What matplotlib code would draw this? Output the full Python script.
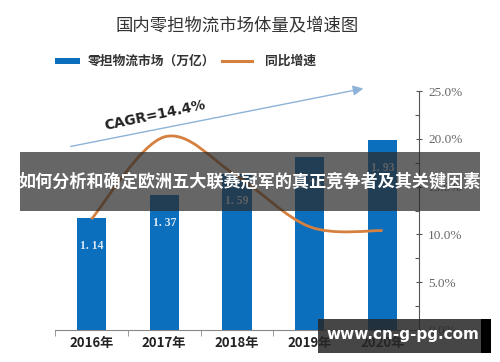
import matplotlib
matplotlib.use("Agg")
import matplotlib.pyplot as plt
from matplotlib.path import Path
from matplotlib.patches import PathPatch, Rectangle, FancyArrowPatch
from matplotlib.ticker import MultipleLocator, FuncFormatter
import numpy as np

plt.rcParams['font.family'] = ['Noto Sans CJK SC', 'DejaVu Sans']

years = ["2016年", "2017年", "2018年", "2019年", "2020年"]
market = [1.14, 1.37, 1.59, 1.76, 1.93]
growth = [11.6, 20.2, 16.1, 10.8, 10.4]

title = "国内零担物流市场体量及增速图"
legend_bar = "零担物流市场（万亿）"
legend_line = "同比增速"
cagr_text = "CAGR=14.4%"
banner_text = "如何分析和确定欧洲五大联赛冠军的真正竞争者及其关键因素"
watermark = "www.cn-g-pg.com"

BAR_C = "#0b6fbe"
LINE_C = "#d5803f"

fig = plt.figure(figsize=(5.0, 3.62), dpi=100)
fig.patch.set_facecolor("white")
ax = fig.add_axes([0.11, 0.0884, 0.728, 0.660])
ax2 = ax.twinx()

x = np.arange(len(years))
bars = ax.bar(x, market, width=0.4, color=BAR_C, zorder=2)
ax.set_xlim(-0.5, len(years) - 0.5)
ax.set_ylim(0, 2.43)
for xi, v in zip(x, market):
    ax.annotate(f"{v:.2f}".replace(".", ". "), (xi, v), xytext=(0, -20),
                textcoords="offset points", ha="center", va="center",
                fontsize=8.5, color="#dbe9f6", family="Liberation Serif",
                fontweight="bold", zorder=3)

# smooth line (Catmull-Rom -> cubic Bezier) through growth points
pts = np.column_stack([x, growth]).astype(float)
verts = [tuple(pts[0])]
codes = [Path.MOVETO]
n = len(pts)
for i in range(n - 1):
    p0 = pts[max(i - 1, 0)]
    p1 = pts[i]
    p2 = pts[i + 1]
    p3 = pts[min(i + 2, n - 1)]
    c1 = p1 + (p2 - p0) / 6.0
    c2 = p2 - (p3 - p1) / 6.0
    verts += [tuple(c1), tuple(c2), tuple(p2)]
    codes += [Path.CURVE4] * 3
ax2.add_patch(PathPatch(Path(verts, codes), facecolor="none", edgecolor=LINE_C,
                        lw=2.0, zorder=4))
ax2.set_ylim(0, 25)
ax2.yaxis.set_major_locator(MultipleLocator(5))
ax2.yaxis.set_minor_locator(MultipleLocator(2.5))
ax2.yaxis.set_major_formatter(FuncFormatter(lambda v, p: f"{v:.1f}%"))
ax2.tick_params(axis="y", which="major", direction="inout", length=5, width=0.8,
                colors="#555555", labelsize=9.5, pad=4)
ax2.tick_params(axis="y", which="minor", direction="in", length=3, width=0.8,
                color="#555555")
for lab in ax2.get_yticklabels():
    lab.set_family("Liberation Serif")
    lab.set_color("#666666")

for a in (ax, ax2):
    a.spines["top"].set_visible(False)
    a.spines["left"].set_visible(False)
    a.set_facecolor("none")
ax.spines["right"].set_visible(False)
ax2.spines["right"].set_color("#555555")
ax2.spines["bottom"].set_visible(False)
ax.spines["bottom"].set_color("#888888")
ax.yaxis.set_visible(False)
ax.set_xticks(x)
ax.set_xticklabels(years, fontsize=9.5, fontweight="bold", color="#222222")
ax.set_xticks(np.arange(-0.5, len(years), 1.0), minor=True)
ax.tick_params(axis="x", which="major", length=0, pad=4)
ax.tick_params(axis="x", which="minor", length=4, color="#888888")
ax.set_zorder(1)
ax2.set_zorder(2)

# title
fig.text(0.474, 0.930, title, ha="center", va="center", fontsize=12.5,
         color="#333333")

# legend
fig.patches.append(Rectangle((0.110, 0.823), 0.050, 0.016, transform=fig.transFigure,
                             facecolor=BAR_C, edgecolor="none"))
fig.text(0.176, 0.831, legend_bar, ha="left", va="center", fontsize=9.2,
         fontweight="bold", color="#333333")
fig.add_artist(plt.Line2D([0.444, 0.504], [0.831, 0.831], transform=fig.transFigure,
                          color=LINE_C, lw=2.2))
fig.text(0.530, 0.831, legend_line, ha="left", va="center", fontsize=9.2,
         fontweight="bold", color="#333333")

# CAGR arrow
fig.add_artist(FancyArrowPatch((0.136, 0.594), (0.732, 0.757), transform=fig.transFigure,
                               arrowstyle="-|>,head_length=6,head_width=3",
                               color="#8db3d8", lw=1.0, mutation_scale=1))
fig.text(0.310, 0.682, cagr_text, ha="center", va="center", rotation=12,
         fontsize=10, fontweight="bold", color="#222222", family="DejaVu Sans")

# overlay banner
fig.patches.append(Rectangle((0.040, 0.417), 0.920, 0.163, transform=fig.transFigure,
                             facecolor="#2b2b2b", alpha=0.72, edgecolor="none", zorder=10))
fig.text(0.5, 0.498, banner_text, ha="center", va="center", fontsize=12.3,
         fontweight="bold", color="white", zorder=11)

# watermark
fig.patches.append(Rectangle((0.636, 0.025), 0.326, 0.094, transform=fig.transFigure,
                             facecolor="#262626", alpha=0.85, edgecolor="none", zorder=10))
fig.patches.append(Rectangle((0.962, 0.025), 0.020, 0.094, transform=fig.transFigure,
                             facecolor="black", edgecolor="none", zorder=10))
fig.text(0.806, 0.075, watermark, ha="center", va="center", fontsize=11,
         fontweight="bold", color="white", family="DejaVu Sans", zorder=11)

fig.savefig("out.png", dpi=100)
